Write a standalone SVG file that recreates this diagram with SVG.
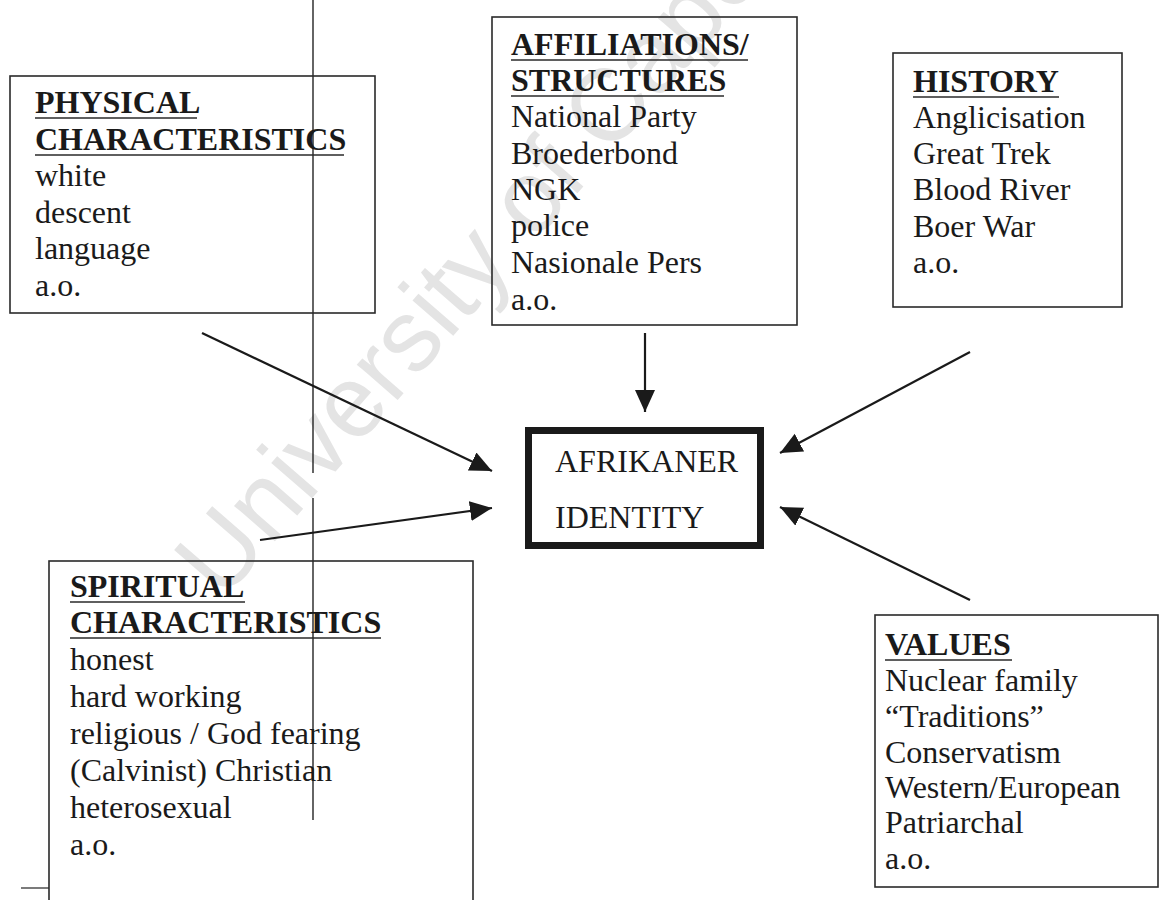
<svg xmlns="http://www.w3.org/2000/svg" width="1160" height="900" viewBox="0 0 1160 900">
  <style>
    .box { fill: none; stroke: #2a2a2a; stroke-width: 1.6; }
    .t { font-family: "Liberation Serif", "Times New Roman", serif; font-size: 32px; fill: #1a1a1a; }
    .h { font-family: "Liberation Serif", "Times New Roman", serif; font-size: 32px; font-weight: bold; fill: #1a1a1a; }
    .ul { stroke: #2a2a2a; stroke-width: 1.5; }
    .conn { stroke: #1a1a1a; stroke-width: 2.2; fill: none; marker-end: url(#arrow); }
    .wm { font-family: "Liberation Sans", Arial, sans-serif; font-size: 102px; fill: #e4e4e4; }
  </style>
  <defs>
    <marker id="arrow" markerUnits="userSpaceOnUse" markerWidth="24" markerHeight="22" refX="22" refY="10" orient="auto">
      <path d="M0,0 L22,10 L0,20 Z" fill="#1a1a1a"/>
    </marker>
  </defs>
  <rect width="1160" height="900" fill="#ffffff"/>

  <g id="watermark">
    <text class="wm" transform="translate(222,602) rotate(-49)">University of Cape Town</text>
  </g>

  <g id="scan-lines">
    <line x1="313" y1="0" x2="313" y2="473" stroke="#111" stroke-width="1.3"/>
    <line x1="313" y1="498" x2="313" y2="820" stroke="#111" stroke-width="1.3"/>
    <line x1="21" y1="888" x2="49" y2="888" stroke="#333" stroke-width="1.3"/>
  </g>

  <g id="physical">
    <rect class="box" x="10" y="76" width="365" height="237"/>
    <text class="h" x="35" y="113">PHYSICAL</text>
    <line class="ul" x1="35" y1="118" x2="197" y2="118"/>
    <text class="h" x="35" y="150">CHARACTERISTICS</text>
    <line class="ul" x1="35" y1="155" x2="344" y2="155"/>
    <text class="t" x="35" y="186">white</text>
    <text class="t" x="35" y="223">descent</text>
    <text class="t" x="35" y="259">language</text>
    <text class="t" x="35" y="296">a.o.</text>
  </g>

  <g id="affiliations">
    <rect class="box" x="492" y="17" width="305" height="308"/>
    <text class="h" x="511" y="55">AFFILIATIONS/</text>
    <line class="ul" x1="511" y1="60" x2="748" y2="60"/>
    <text class="h" x="511" y="91">STRUCTURES</text>
    <line class="ul" x1="511" y1="96" x2="724" y2="96"/>
    <text class="t" x="511" y="127">National Party</text>
    <text class="t" x="511" y="164">Broederbond</text>
    <text class="t" x="511" y="200">NGK</text>
    <text class="t" x="511" y="236">police</text>
    <text class="t" x="511" y="273">Nasionale Pers</text>
    <text class="t" x="511" y="310">a.o.</text>
  </g>

  <g id="history">
    <rect class="box" x="893" y="53" width="229" height="254"/>
    <text class="h" x="913" y="92">HISTORY</text>
    <line class="ul" x1="913" y1="97" x2="1059" y2="97"/>
    <text class="t" x="913" y="128">Anglicisation</text>
    <text class="t" x="913" y="164">Great Trek</text>
    <text class="t" x="913" y="200">Blood River</text>
    <text class="t" x="913" y="237">Boer War</text>
    <text class="t" x="913" y="273">a.o.</text>
  </g>

  <g id="identity">
    <rect x="528.5" y="430.5" width="232" height="115" fill="none" stroke="#1a1a1a" stroke-width="7"/>
    <text class="t" x="555" y="472">AFRIKANER</text>
    <text class="t" x="555" y="528">IDENTITY</text>
  </g>

  <g id="spiritual">
    <rect class="box" x="49" y="561" width="424" height="360"/>
    <text class="h" x="70" y="597">SPIRITUAL</text>
    <line class="ul" x1="70" y1="602" x2="245" y2="602"/>
    <text class="h" x="70" y="633">CHARACTERISTICS</text>
    <line class="ul" x1="70" y1="638" x2="381" y2="638"/>
    <text class="t" x="70" y="670">honest</text>
    <text class="t" x="70" y="707">hard working</text>
    <text class="t" x="70" y="744">religious / God fearing</text>
    <text class="t" x="70" y="781">(Calvinist) Christian</text>
    <text class="t" x="70" y="818">heterosexual</text>
    <text class="t" x="70" y="855">a.o.</text>
  </g>

  <g id="values">
    <rect class="box" x="875" y="615" width="283" height="272"/>
    <text class="h" x="885" y="655">VALUES</text>
    <line class="ul" x1="885" y1="660" x2="1012" y2="660"/>
    <text class="t" x="885" y="691">Nuclear family</text>
    <text class="t" x="885" y="727">“Traditions”</text>
    <text class="t" x="885" y="763">Conservatism</text>
    <text class="t" x="885" y="798">Western/European</text>
    <text class="t" x="885" y="833">Patriarchal</text>
    <text class="t" x="885" y="869">a.o.</text>
  </g>

  <g id="connectors">
    <line class="conn" x1="202" y1="333" x2="492" y2="471"/>
    <line class="conn" x1="260" y1="540" x2="492" y2="508"/>
    <line class="conn" x1="645" y1="333" x2="645" y2="412"/>
    <line class="conn" x1="970" y1="352" x2="780" y2="453"/>
    <line class="conn" x1="970" y1="600" x2="780" y2="507"/>
  </g>
</svg>
